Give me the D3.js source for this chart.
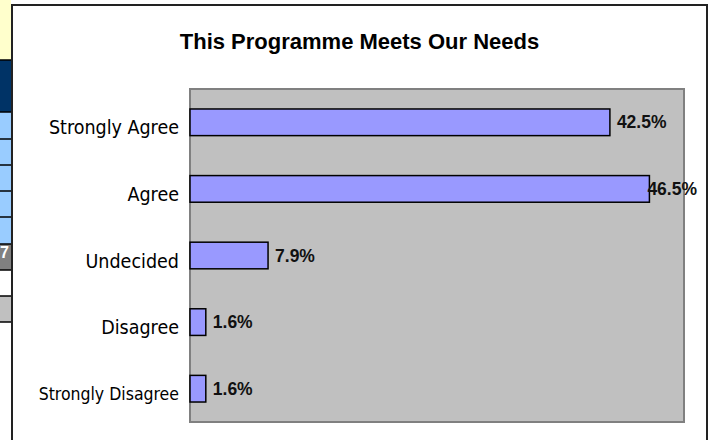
<!DOCTYPE html>
<html>
<head>
<meta charset="utf-8">
<script src="https://cdn.jsdelivr.net/npm/d3@7"></script>
<style>
  html, body { margin: 0; padding: 0; background: #fff; }
  svg { display: block; }
</style>
</head>
<body>
<div id="chart"></div>
<script>
// chart data
const categories = ["Strongly Agree", "Agree", "Undecided", "Disagree", "Strongly Disagree"];
const values = [42.5, 46.5, 7.9, 1.6, 1.6];
const xDomain = [0, 50];
const chartTitle = "This Programme Meets Our Needs";

// bit of spreadsheet showing at the left edge of the screenshot
const cellFills = ["#FFFFCC", "#003366", "#99CCFF", "#99CCFF", "#99CCFF", "#99CCFF", "#99CCFF", "#808080", "#FFFFFF", "#C0C0C0"];
const cellEdges = [0, 60, 112, 139, 165, 191, 217, 244, 270, 296, 322];
const cellText = ["", "", "", "", "", "", "", "7", "", ""];

const width = 711;
const height = 440;
const frame = { left: 12, top: 5, right: 707 };
const plot = { left: 190, top: 89, right: 684, bottom: 422 };

const svg = d3.select("#chart").append("svg")
    .attr("width", width)
    .attr("height", height);

// 1. SPREADSHEET CELLS
const cells = svg.append("g");
cellFills.forEach((fill, i) => {
    cells.append("rect")
        .attr("x", 0)
        .attr("y", cellEdges[i])
        .attr("width", 11)
        .attr("height", cellEdges[i + 1] - cellEdges[i])
        .attr("fill", fill);
    if (cellText[i]) {
        cells.append("text")
            .attr("x", 9)
            .attr("y", cellEdges[i + 1] - 12)
            .attr("text-anchor", "end")
            .attr("fill", "#fff")
            .style("font", "bold 16px 'Liberation Sans', Arial, sans-serif")
            .text(cellText[i]);
    }
});
cellEdges.slice(1).forEach(y => {
    cells.append("line")
        .attr("x1", 0).attr("x2", 11)
        .attr("y1", y).attr("y2", y)
        .attr("stroke", "#000")
        .attr("stroke-width", 1.5);
});

// 2. CHART FRAME
svg.append("rect")
    .attr("x", frame.left)
    .attr("y", frame.top)
    .attr("width", frame.right - frame.left)
    .attr("height", height)
    .attr("fill", "#fff")
    .attr("stroke", "#222")
    .attr("stroke-width", 2);

// 3. TITLE
svg.append("text")
    .attr("x", (frame.left + frame.right) / 2)
    .attr("y", 49)
    .attr("text-anchor", "middle")
    .attr("fill", "#000")
    .style("font", "bold 22px 'Liberation Sans', Arial, sans-serif")
    .text(chartTitle);

// 4. SCALES
const x = d3.scaleLinear()
    .domain(xDomain)
    .range([plot.left, plot.right]);

const y = d3.scaleBand()
    .domain(categories)
    .range([plot.top, plot.bottom])
    .paddingInner(0.6)
    .paddingOuter(0.3);

// 5. PLOT AREA
svg.append("rect")
    .attr("x", plot.left)
    .attr("y", plot.top)
    .attr("width", plot.right - plot.left)
    .attr("height", plot.bottom - plot.top)
    .attr("fill", "#C0C0C0")
    .attr("stroke", "#808080")
    .attr("stroke-width", 2);

// 6. CATEGORY AXIS (labels only)
const yAxisG = svg.append("g")
    .attr("transform", `translate(${plot.left},0)`)
    .call(d3.axisLeft(y).tickSize(0).tickPadding(11));
yAxisG.select(".domain").remove();
yAxisG.selectAll("text")
    .attr("fill", "#000")
    .attr("dy", "0.62em")
    .style("font-family", "'DejaVu Sans Condensed', 'Liberation Sans', Arial, sans-serif")
    .style("font-size", d => d.length > 15 ? "17.5px" : "19.5px");

// 7. BARS
const data = categories.map((c, i) => ({ category: c, value: values[i] }));

svg.append("g")
    .selectAll("rect")
    .data(data)
    .join("rect")
    .attr("x", x(0))
    .attr("y", d => y(d.category))
    .attr("width", d => x(d.value) - x(0))
    .attr("height", y.bandwidth())
    .attr("fill", "#9999FF")
    .attr("stroke", "#000")
    .attr("stroke-width", 1.5);

// 8. VALUE LABELS (pulled back inside the frame if they would overflow)
const fmt = v => d3.format(".1f")(v) + "%";
svg.append("g")
    .selectAll("text")
    .data(data)
    .join("text")
    .attr("y", d => y(d.category) + y.bandwidth() / 2 + 6)
    .attr("fill", "#111")
    .style("font", "bold 17.5px 'Liberation Sans', Arial, sans-serif")
    .text(d => fmt(d.value))
    .attr("x", function(d) {
        const w = this.getComputedTextLength();
        return Math.min(x(d.value) + 7, frame.right - 10 - w);
    });
</script>
</body>
</html>
